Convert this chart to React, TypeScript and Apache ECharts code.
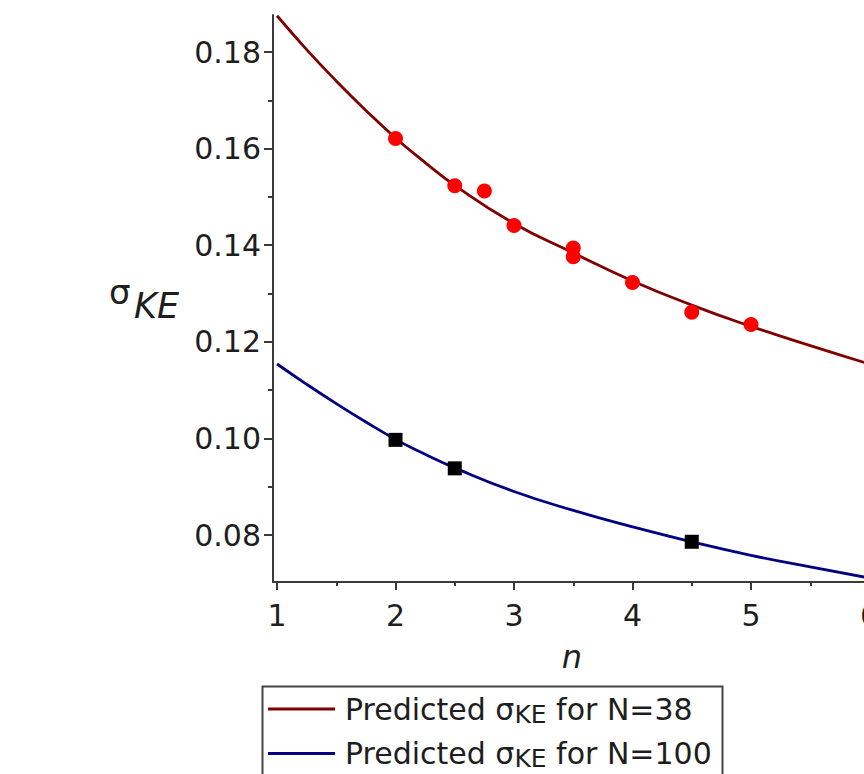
import React, { useEffect, useRef } from "react";
import * as echarts from "echarts";

// ---- data ----
const nGrid = [1, 1.25, 1.5, 1.75, 2, 2.25, 2.5, 3, 3.5, 4, 4.5, 5, 5.5, 6];
const predicted38 = [0.1875, 0.1805, 0.1740, 0.1679, 0.1622, 0.1571, 0.1524, 0.1445, 0.1384, 0.1326, 0.1276, 0.1232, 0.1192, 0.1154];
const predicted100 = [0.1154, 0.1112, 0.1072, 0.1034, 0.0998, 0.0967, 0.0939, 0.0890, 0.0851, 0.0817, 0.0786, 0.0758, 0.0734, 0.0711];

const obs38N = [2, 2.5, 2.75, 3, 3.5, 3.5, 4, 4.5, 5];
const obs38 = [0.1621, 0.1523, 0.1512, 0.1441, 0.1394, 0.1376, 0.1323, 0.1261, 0.1236];
const obs100N = [2, 2.5, 4.5];
const obs100 = [0.0997, 0.0938, 0.0786];

const xTickMin = 1;
const xTickMax = 6;
const xTickStep = 1;
const yTickMin = 0.08;
const yTickMax = 0.18;
const yTickStep = 0.02;

const legendNames = ["N38", "N100"];
const legendLabels = ["N=38", "N=100"];

const FONT = "DejaVu Sans, Verdana, sans-serif";
const TXT = "#1e1e1e";
const AX = "#3a3a3a";

export default function App() {
  const ref = useRef<HTMLDivElement>(null);

  useEffect(() => {
    if (!ref.current) return;
    const chart = echarts.init(ref.current, null, { renderer: "svg" });

    const zip = (xs: number[], ys: number[]) => xs.map((x, i) => [x, ys[i]]);

    const option: any = {
      animation: false,
      backgroundColor: "#ffffff",
      grid: [
        { left: 273, right: -5.5, top: 15, bottom: 192, containLabel: false, outerBoundsMode: "none" },
        { left: 277, right: -5.5, top: 52, bottom: 239, containLabel: false, outerBoundsMode: "none" },
      ],
      xAxis: [
        {
          gridIndex: 0, type: "value", min: 0.966, max: 6,
          axisLine: { show: true, onZero: false, lineStyle: { color: AX, width: 2 } },
          axisTick: { show: false }, axisLabel: { show: false }, splitLine: { show: false },
        },
        {
          gridIndex: 1, type: "value", min: xTickMin, max: xTickMax, interval: xTickStep, offset: 47,
          axisLine: { show: false },
          axisTick: { show: true, length: 8, lineStyle: { color: AX, width: 2 } },
          minorTick: { show: true, splitNumber: 2, length: 4, lineStyle: { color: AX, width: 2 } },
          axisLabel: { show: true, fontSize: 30, fontFamily: FONT, color: TXT, margin: 18, showMaxLabel: true, showMinLabel: true },
          splitLine: { show: false }, minorSplitLine: { show: false },
        },
      ],
      yAxis: [
        {
          gridIndex: 0, type: "value", min: 0.07027, max: 0.18766,
          axisLine: { show: true, onZero: false, lineStyle: { color: AX, width: 2 } },
          axisTick: { show: false }, axisLabel: { show: false }, splitLine: { show: false },
        },
        {
          gridIndex: 1, type: "value", min: yTickMin, max: yTickMax, interval: yTickStep, offset: 4,
          axisLine: { show: false },
          axisTick: { show: true, length: 9, lineStyle: { color: AX, width: 2 } },
          minorTick: { show: true, splitNumber: 2, length: 5, lineStyle: { color: AX, width: 2 } },
          axisLabel: {
            show: true, fontSize: 30, fontFamily: FONT, color: TXT, margin: 12,
            formatter: (v: number) => v.toFixed(2),
          },
          splitLine: { show: false }, minorSplitLine: { show: false },
        },
      ],
      legend: {
        show: true,
        orient: "vertical",
        left: 268,
        top: 694,
        padding: 0,
        itemGap: 12,
        itemWidth: 67,
        itemHeight: 3,
        icon: "rect",
        selectedMode: false,
        data: legendNames,
        formatter: (name: string) => {
          const lab = legendLabels[legendNames.indexOf(name)];
          return `{a0|Predicted σ}{b|KE}{a| for ${lab}}`;
        },
        textStyle: {
          color: TXT,
          fontFamily: FONT,
          fontSize: 30,
          rich: {
            a0: { fontSize: 30, fontFamily: FONT, color: TXT, lineHeight: 35, padding: [0, 0, 0, 5] },
            a: { fontSize: 30, fontFamily: FONT, color: TXT, lineHeight: 35 },
            b: { fontSize: 25, fontFamily: FONT, color: TXT, lineHeight: 10, verticalAlign: "bottom" },
          },
        },
      },
      graphic: [
        {
          type: "rect", left: 260, top: 684, silent: true,
          shape: { x: 0, y: 0, width: 460, height: 140 },
          style: { fill: "none", stroke: "#444", lineWidth: 2 },
          z: 10,
        },
        {
          type: "text", x: 109, y: 292,
          style: { text: "σ", font: `34px ${FONT}`, fill: TXT, align: "left", verticalAlign: "middle" },
        },
        {
          type: "text", x: 134, y: 306,
          style: { text: "KE", font: `italic 35px ${FONT}`, fill: TXT, align: "left", verticalAlign: "middle" },
        },
        {
          type: "text", x: 572, y: 657,
          style: { text: "n", font: `italic 32px ${FONT}`, fill: TXT, align: "center", verticalAlign: "middle" },
        },
      ],
      series: [
        {
          name: "N38", type: "line", xAxisIndex: 0, yAxisIndex: 0,
          data: zip(nGrid, predicted38), smooth: 0.5, showSymbol: false, symbol: "none",
          lineStyle: { color: "#800000", width: 2.8 }, itemStyle: { color: "#800000" }, z: 2,
        },
        {
          name: "N100", type: "line", xAxisIndex: 0, yAxisIndex: 0,
          data: zip(nGrid, predicted100), smooth: 0.5, showSymbol: false, symbol: "none",
          lineStyle: { color: "#000080", width: 2.8 }, itemStyle: { color: "#000080" }, z: 2,
        },
        {
          name: "obs38", type: "scatter", xAxisIndex: 0, yAxisIndex: 0,
          data: zip(obs38N, obs38), symbol: "circle", symbolSize: 15,
          itemStyle: { color: "#ff0000", opacity: 1 }, z: 3,
        },
        {
          name: "obs100", type: "scatter", xAxisIndex: 0, yAxisIndex: 0,
          data: zip(obs100N, obs100), symbol: "rect", symbolSize: 14,
          itemStyle: { color: "#000000", opacity: 1 }, z: 3,
        },
      ],
    };

    chart.setOption(option);
    return () => chart.dispose();
  }, []);

  return (
    <div
      ref={ref}
      style={{ position: "absolute", left: 0, top: 0, width: 864, height: 774, background: "#fff" }}
    />
  );
}
